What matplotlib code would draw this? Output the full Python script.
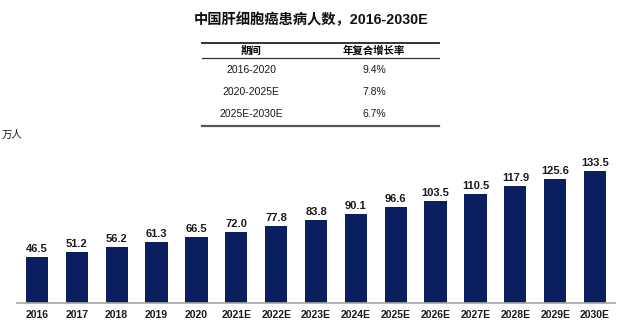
import matplotlib
matplotlib.use('Agg')
import matplotlib.pyplot as plt
from matplotlib.lines import Line2D

plt.rcParams['font.family'] = ['Liberation Sans', 'Noto Sans CJK SC', 'DejaVu Sans']

# Data
years = ["2016", "2017", "2018", "2019", "2020", "2021E", "2022E", "2023E",
         "2024E", "2025E", "2026E", "2027E", "2028E", "2029E", "2030E"]
patients = [46.5, 51.2, 56.2, 61.3, 66.5, 72.0, 77.8, 83.8,
            90.1, 96.6, 103.5, 110.5, 117.9, 125.6, 133.5]
periods = ["2016-2020", "2020-2025E", "2025E-2030E"]
cagr = ["9.4%", "7.8%", "6.7%"]

W, H = 622, 329
fig = plt.figure(figsize=(W / 100, H / 100), dpi=100)
fig.patch.set_facecolor('white')

# bar axes in pixel terms
left, right, base, top = 17, 615, 303, 160
ax = fig.add_axes([left / W, (H - base) / H, (right - left) / W, (base - top) / H])
x = range(len(years))
ax.bar(x, patients, width=0.56, color="#0B1F5E")
for i, v in zip(x, patients):
    ax.text(i, v + 3, f"{v:.1f}", ha='center', va='bottom', fontsize=8,
            fontweight='bold', color="#1A1A1A")
ax.set_xlim(-0.5, len(years) - 0.5)
ax.set_ylim(0, 144.5)
ax.set_xticks(list(x))
ax.set_xticklabels(years, fontsize=7.5, fontweight='bold', color="#1A1A1A")
ax.tick_params(axis='x', length=0, pad=5)
ax.set_yticks([])
for s in ['top', 'right', 'left']:
    ax.spines[s].set_visible(False)
ax.spines['bottom'].set_color("#A6A6A6")
ax.spines['bottom'].set_linewidth(1.2)

# unit label
fig.text(2 / W, 1 - 135 / H, "万人", fontsize=7.5, ha='left', va='center', color="#1A1A1A")

# title
fig.text(311 / W, 1 - 20 / H, "中国肝细胞癌患病人数，2016-2030E", fontsize=10.3,
         fontweight='bold', ha='center', va='center', color="#111111")

# table
tx0, tx1 = 202 / W, 439 / W
fig.add_artist(Line2D([tx0, tx1], [1 - 43 / H] * 2, color="#333333", lw=1.4))
fig.add_artist(Line2D([tx0, tx1], [1 - 58 / H] * 2, color="#333333", lw=0.9))
fig.add_artist(Line2D([tx0, tx1], [1 - 126 / H] * 2, color="#555555", lw=1.6))
c1, c2 = 251 / W, 374 / W
fig.text(c1, 1 - 50.5 / H, "期间", fontsize=7.5, fontweight='bold', ha='center', va='center')
fig.text(c2, 1 - 50.5 / H, "年复合增长率", fontsize=7.5, fontweight='bold', ha='center', va='center')
for j, (p, c) in enumerate(zip(periods, cagr)):
    yy = 1 - (70 + 22 * j) / H
    fig.text(c1, yy, p, fontsize=7.5, ha='center', va='center', color="#1A1A1A")
    fig.text(c2, yy, c, fontsize=7.5, ha='center', va='center', color="#1A1A1A")

fig.savefig("out.png", dpi=100, facecolor='white')
